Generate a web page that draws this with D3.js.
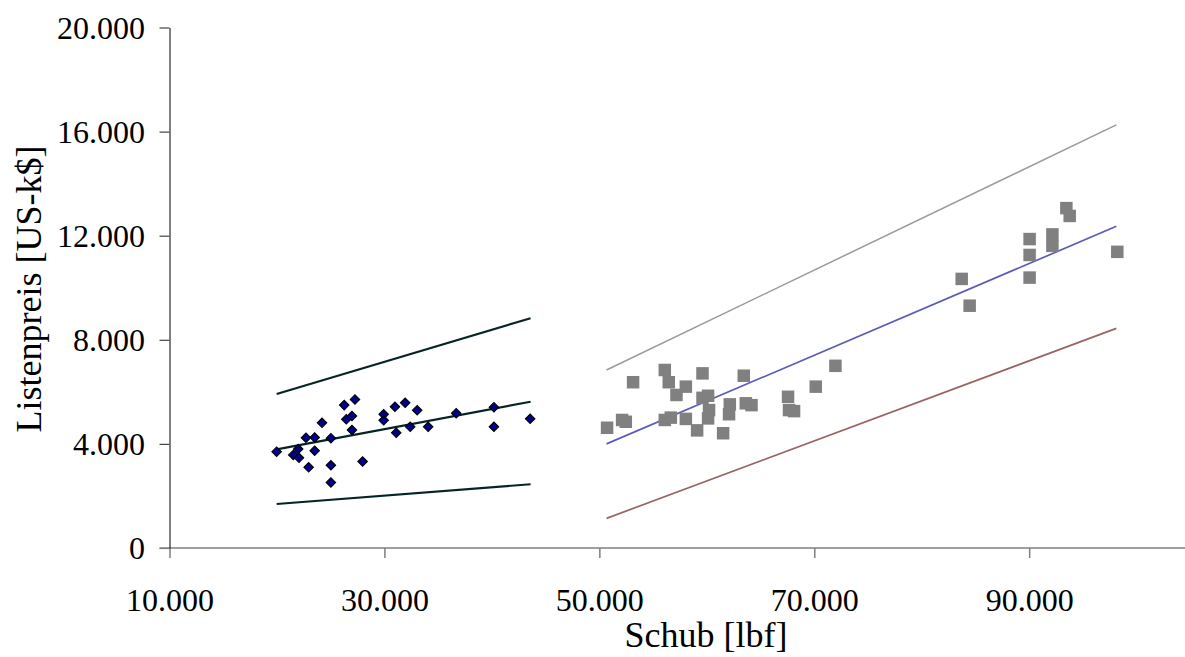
<!DOCTYPE html>
<html>
<head>
<meta charset="utf-8">
<script src="https://cdn.jsdelivr.net/npm/d3@7"></script>
<style>
    html, body { margin: 0; padding: 0; background: #fff; }
    svg text { font-family: "Liberation Serif", "DejaVu Serif", serif; fill: #000; }
</style>
</head>
<body>
<div id="chart"></div>
<script>
// Schub [lbf] vs. Listenpreis [US-k$], two engine groups
const smallThrust = [19970, 21520, 21980, 22050, 22950, 22700, 23510, 23510, 24190, 25020, 25020, 25020,
    26260, 27260, 26450, 26980, 26980, 27970, 29930, 29930, 30980, 31100, 31930, 32400, 33050, 34070,
    36680, 40190, 40190, 43560];
const smallPrice = [3700, 3570, 3800, 3470, 3100, 4240, 4250, 3740, 4810, 4220, 3180, 2520,
    5490, 5710, 4950, 5070, 4530, 3320, 5140, 4910, 5430, 4430, 5580, 4660, 5290, 4660,
    5180, 5410, 4660, 4970];

const largeThrust = [50720, 52120, 52460, 53140, 56090, 56460, 58050, 57180, 56090, 56650, 58050, 59100,
    59600, 59600, 60120, 60210, 60120, 61520, 62140, 62070, 63440, 63630, 64160, 67560, 67650, 68120,
    70140, 71970, 83720, 84460, 90040, 90040, 90040, 92160, 92160, 93460, 93770, 98200];
const largePrice = [4620, 4920, 4850, 6370, 6840, 6370, 6200, 5880, 4920, 5010, 4960, 4520,
    6710, 5770, 5850, 5300, 4980, 4410, 5520, 5140, 6620, 5560, 5490, 5810, 5300, 5260,
    6200, 7000, 10340, 9310, 11870, 11260, 10390, 12050, 11610, 13060, 12760, 11380];

// trend line and band end points [thrust, price]
const smallUpper = [[19970, 5920], [43600, 8830]];
const smallTrend = [[19970, 3790], [43600, 5620]];
const smallLower = [[19970, 1690], [43600, 2450]];
const largeUpper = [[50670, 6840], [98110, 16260]];
const largeTrend = [[50670, 4000], [98110, 12360]];
const largeLower = [[50670, 1140], [98110, 8440]];

const xTicks = [10000, 30000, 50000, 70000, 90000];
const yTicks = [0, 4000, 8000, 12000, 16000, 20000];
const xTitle = "Schub [lbf]";
const yTitle = "Listenpreis [US-k$]";

const WIDTH = 1185, HEIGHT = 657;
const margin = { top: 27.5, right: 0, bottom: 109, left: 169.5 };

const de = d3.formatLocale({ decimal: ",", thousands: ".", grouping: [3], currency: ["", "$"] });
const fmt = de.format(",");

const svg = d3.select("#chart").append("svg")
    .attr("width", WIDTH)
    .attr("height", HEIGHT);

const x = d3.scaleLinear()
    .domain([10000, 104500])
    .range([margin.left, WIDTH - margin.right]);
const y = d3.scaleLinear()
    .domain([0, 20000])
    .range([HEIGHT - margin.bottom, margin.top]);

// x axis (grey)
const gx = svg.append("g")
    .attr("transform", `translate(0,${y(0)})`)
    .call(d3.axisBottom(x).tickValues(xTicks).tickFormat(fmt).tickSize(10).tickSizeOuter(0));
gx.select(".domain").attr("stroke", "#7f7f7f").attr("stroke-width", 1.5)
    .attr("d", `M${x.range()[0] - 10},0H${x.range()[1]}`);
gx.selectAll(".tick line").attr("stroke", "#7f7f7f").attr("stroke-width", 1.5);
gx.selectAll(".tick text")
    .attr("y", 63).attr("dy", null)
    .attr("font-size", 32);

// y axis (black)
const gy = svg.append("g")
    .attr("transform", `translate(${x(10000)},0)`)
    .call(d3.axisLeft(y).tickValues(yTicks).tickFormat(fmt).tickSize(10).tickSizeOuter(0));
gy.select(".domain").attr("stroke", "#000").attr("stroke-width", 1);
gy.selectAll(".tick line").attr("stroke", "#444").attr("stroke-width", 1.2);
gy.selectAll(".tick").filter(d => d === 0).select("line").attr("stroke", "#7f7f7f");
gy.selectAll(".tick text")
    .attr("x", -24.5)
    .attr("dy", "0.34em")
    .attr("font-size", 32);
gy.selectAll("text").attr("font-family", null).attr("fill", "#000");
gx.selectAll("text").attr("font-family", null).attr("fill", "#000");

// axis titles
svg.append("text")
    .attr("x", 706)
    .attr("y", 647)
    .attr("text-anchor", "middle")
    .attr("font-size", 36)
    .text(xTitle);
svg.append("text")
    .attr("transform", `translate(41,289) rotate(-90)`)
    .attr("text-anchor", "middle")
    .attr("font-size", 36)
    .text(yTitle);

// lines
const line = d3.line().x(d => x(d[0])).y(d => y(d[1]));
const lineSets = [
    { pts: smallUpper, color: "#062424", w: 2.2 },
    { pts: smallTrend, color: "#062424", w: 2.2 },
    { pts: smallLower, color: "#062424", w: 2.2 },
    { pts: largeUpper, color: "#9a9a9a", w: 1.5 },
    { pts: largeTrend, color: "#5c5cb8", w: 1.7 },
    { pts: largeLower, color: "#9a6464", w: 1.7 }
];
svg.append("g").selectAll("path")
    .data(lineSets)
    .join("path")
    .attr("fill", "none")
    .attr("stroke", d => d.color)
    .attr("stroke-width", d => d.w)
    .attr("d", d => line(d.pts));

// grey squares
const large = largeThrust.map((t, i) => ({ t, p: largePrice[i] }));
svg.append("g").selectAll("rect")
    .data(large)
    .join("rect")
    .attr("x", d => x(d.t) - 6.25)
    .attr("y", d => y(d.p) - 6.25)
    .attr("width", 12.5)
    .attr("height", 12.5)
    .attr("fill", "#808080");

// navy diamonds
const small = smallThrust.map((t, i) => ({ t, p: smallPrice[i] }));
svg.append("g").selectAll("path")
    .data(small)
    .join("path")
    .attr("transform", d => `translate(${x(d.t)},${y(d.p)}) rotate(45)`)
    .attr("d", d3.symbol(d3.symbolSquare, 46))
    .attr("fill", "#000080")
    .attr("stroke", "#000")
    .attr("stroke-width", 1);
</script>
</body>
</html>
